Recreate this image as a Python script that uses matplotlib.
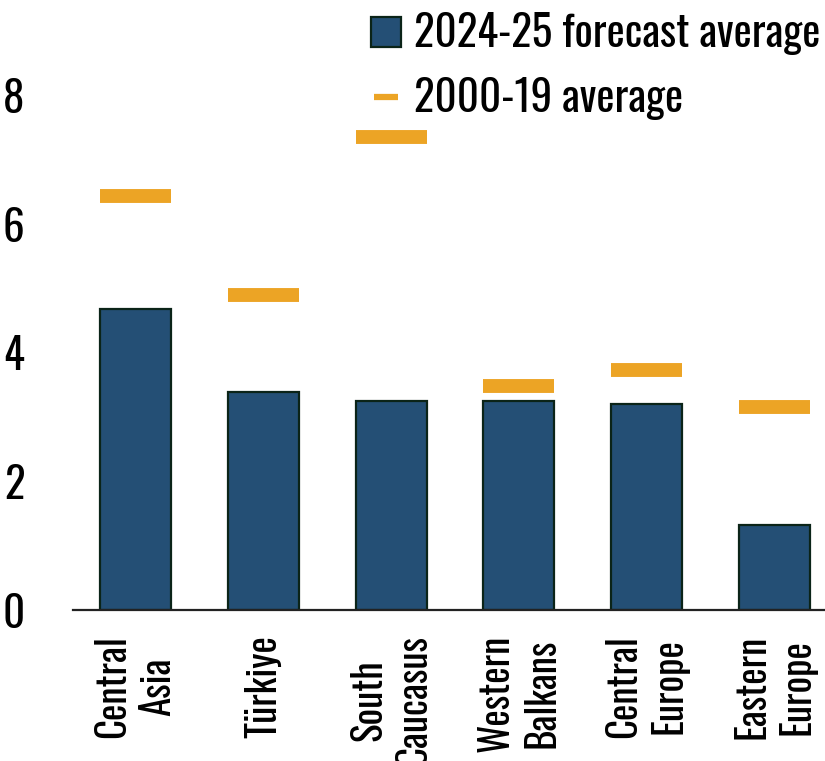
import numpy as np
import matplotlib
matplotlib.use('Agg')
import matplotlib.pyplot as plt
from matplotlib.patches import Patch
from matplotlib.lines import Line2D

plt.rcParams['font.family'] = ['Oswald', 'DejaVu Sans']

regions = ['Central\nAsia', 'Türkiye', 'South\nCaucasus', 'Western\nBalkans',
           'Central\nEurope', 'Eastern\nEurope']
forecast_2024_25 = [4.68, 3.39, 3.25, 3.25, 3.21, 1.32]
avg_2000_19 = [6.44, 4.90, 7.36, 3.49, 3.74, 3.16]
yticks = [0, 2, 4, 6, 8]

col_bar = '#244F75'
col_edge = '#0B2418'
col_avg = '#ECA425'

fig = plt.figure(figsize=(8.25, 7.61))
ax = fig.add_axes([73/825, 1 - 610/761, 1 - 73/825, 610/761])

x = np.arange(len(regions))
w = 0.555
ax.bar(x, forecast_2024_25, width=w, color=col_bar, edgecolor=col_edge, linewidth=1.6, zorder=2)
ax.hlines(avg_2000_19, x - w/2, x + w/2, colors=col_avg, linewidth=10, capstyle='butt', zorder=3)

ax.set_xlim(-0.489, 5.395)
ax.set_ylim(0, 9.49)
ax.set_yticks(yticks)
ax.set_yticklabels([str(t) for t in yticks])
ax.set_xticks(x)
ax.set_xticklabels(regions, rotation=90, va='top', ha='center', multialignment='center', fontsize=28)
ax.tick_params(axis='y', length=0, pad=35, labelsize=31)
ax.tick_params(axis='x', length=0, pad=18)

for s in ['top', 'right', 'left']:
    ax.spines[s].set_visible(False)
ax.spines['bottom'].set_color('#222222')
ax.spines['bottom'].set_linewidth(1.6)

handles = [Patch(facecolor=col_bar, edgecolor=col_edge, linewidth=1.6),
           Line2D([], [], ls='none', marker='_', ms=17, mew=4.5, color=col_avg)]
labels = ['2024-25 forecast average', '2000-19 average']
fig.legend(handles, labels, loc='upper left', bbox_to_anchor=(371/825, 1 - 12/761), frameon=False,
           fontsize=31, handlelength=0.7, handleheight=0.7, handletextpad=0.3,
           labelspacing=0.52, borderpad=0, borderaxespad=0)

fig.savefig('out.png', dpi=100)
